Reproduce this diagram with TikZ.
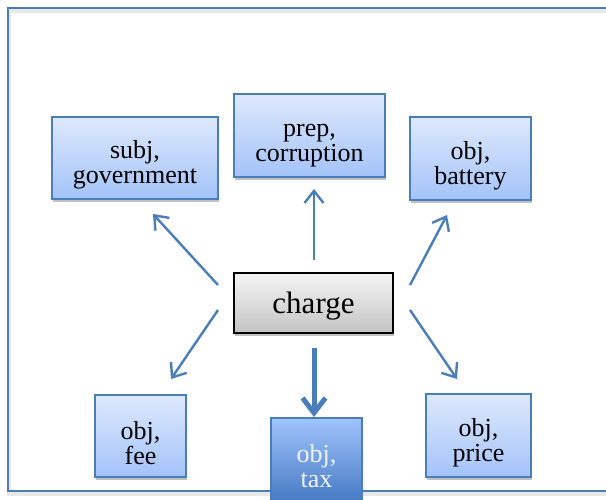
\documentclass[tikz,border=0pt]{standalone}
\usepackage{fontspec}
\setmainfont{Liberation Serif}
\usetikzlibrary{arrows.meta,shadows}

\definecolor{edgeblue}{RGB}{74,126,187}
\definecolor{leaftop}{RGB}{222,233,252}
\definecolor{leafbot}{RGB}{163,195,249}
\definecolor{darktop}{RGB}{160,196,252}
\definecolor{darkbot}{RGB}{72,124,198}
\definecolor{greytop}{RGB}{244,244,244}
\definecolor{greybot}{RGB}{196,196,196}

\tikzset{
  boxshadow/.style={drop shadow={shadow xshift=1pt, shadow yshift=-3pt, opacity=0.35, fill=black!70}},
  % a tall empty rule beside the label lowers it a little inside its box
  leaf/.style={draw=edgeblue, line width=1.6pt, top color=leaftop, bottom color=leafbot,
    boxshadow, inner sep=0pt, align=center, text=black,
    font=\fontsize{26}{25}\selectfont,
    execute at begin node={\rule{0pt}{57pt}}},
  leafdark/.style={leaf, top color=darktop, bottom color=darkbot, text=white!95!blue},
  hub/.style={draw=black, line width=1.6pt, top color=greytop, bottom color=greybot,
    boxshadow, inner sep=0pt, align=center, font=\fontsize{31}{34}\selectfont,
    execute at begin node={\rule{0pt}{27pt}}},
  frameline/.style={draw=edgeblue, line width=1.6pt},
  frameshade/.style={draw=black!9, line width=3.5pt},
  thinarrow/.style={draw=edgeblue, line width=2.4pt,
    -{Straight Barb[length=12pt,width=19pt,line width=2.4pt]}},
  thickarrow/.style={draw=edgeblue, line width=5pt,
    -{Straight Barb[length=15pt,width=23pt,line width=5pt]}}
}

\begin{document}
\begin{tikzpicture}[x=1pt,y=-1pt]
  \useasboundingbox (0,0) rectangle (606,499);
  \clip (0,0) rectangle (606,499);
  \fill[white] (0,0) rectangle (606,499);

  % outer frame with a soft edge below it, running past the right edge
  \draw[frameshade] (9,11) rectangle (640,494);
  \draw[frameline] (8,8) rectangle (640,491);

  % central word
  \node[hub, minimum width=159, minimum height=60] (charge) at (313.5,303) {charge};

  % dependents
  \node[leaf, minimum width=166, minimum height=82] (gov) at (135,158) {subj,\\government};
  \node[leaf, minimum width=151, minimum height=83] (prep) at (309.5,135.5) {prep,\\corruption};
  \node[leaf, minimum width=121, minimum height=83] (batt) at (470.5,158.5) {obj,\\battery};
  \node[leaf, minimum width=91, minimum height=82] (fee) at (140.5,436) {obj,\\fee};
  \node[leaf, minimum width=105, minimum height=83] (price) at (478.5,435.5) {obj,\\price};

  % arrow end points around the central word
  \coordinate (ulS) at (218,285);  \coordinate (ulE) at (153,214);
  \coordinate (upS) at (314,260);  \coordinate (upE) at (314,189);
  \coordinate (urS) at (410,285);  \coordinate (urE) at (447,215);
  \coordinate (llS) at (218,310);  \coordinate (llE) at (171,379);
  \coordinate (lrS) at (410,310);  \coordinate (lrE) at (457,379);
  \coordinate (dnS) at (314,348);  \coordinate (dnE) at (314,417);

  \draw[thinarrow] (ulS) -- (ulE);
  \draw[thinarrow] (upS) -- (upE);
  \draw[thinarrow] (urS) -- (urE);
  \draw[thinarrow] (llS) -- (llE);
  \draw[thinarrow] (lrS) -- (lrE);
  \draw[thickarrow] (dnS) -- (dnE);

  % highlighted dependent, over the frame line
  \node[leafdark, minimum width=91, minimum height=82] (tax) at (316.5,459) {obj,\\tax};
\end{tikzpicture}
\end{document}
